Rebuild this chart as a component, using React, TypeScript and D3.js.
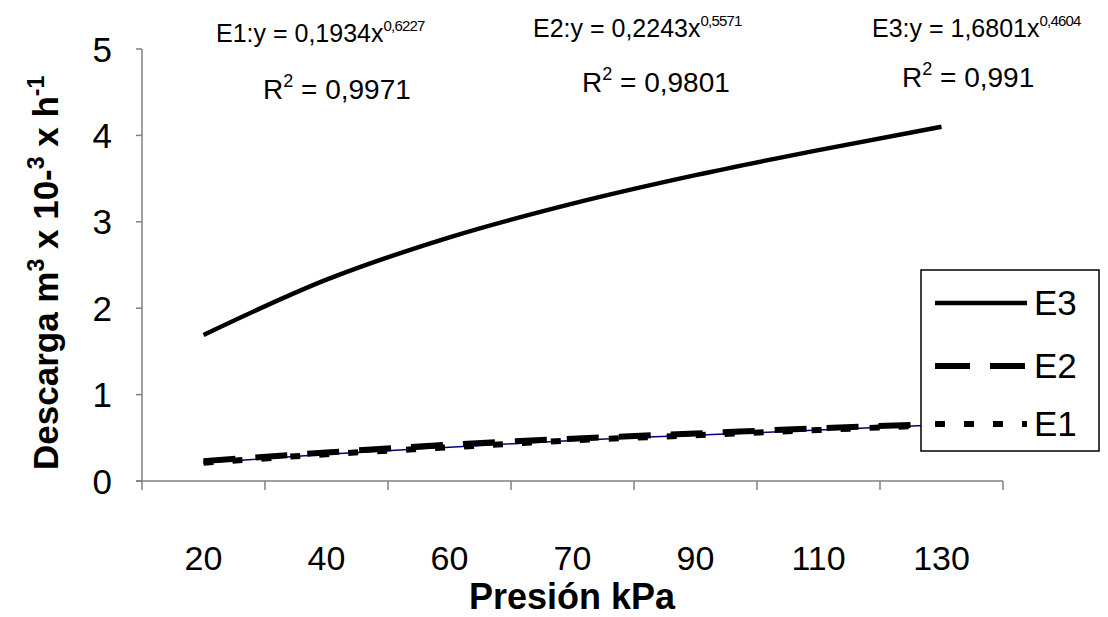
import { useEffect, useRef } from "react";
import * as d3 from "d3";

// x categories (pressure, kPa) and the three emitters
const categories = ["20", "40", "60", "70", "90", "110", "130"];
const e1Values = [0.21, 0.31, 0.39, 0.47, 0.53, 0.59, 0.65];
const e2Values = [0.23, 0.33, 0.42, 0.49, 0.55, 0.61, 0.66];
const e3Values = [1.69, 2.33, 2.82, 3.21, 3.54, 3.83, 4.1];
const yTicks = [0, 1, 2, 3, 4, 5];

const equations = [
  { name: "E1", eq: "0,1934", exp: "0,6227", r2: "0,9971" },
  { name: "E2", eq: "0,2243", exp: "0,5571", r2: "0,9801" },
  { name: "E3", eq: "1,6801", exp: "0,4604", r2: "0,991" },
];

export default function App() {
  const svgRef = useRef<SVGSVGElement | null>(null);

  useEffect(() => {
    const width = 1108;
    const height = 617;
    const left = 142;
    const right = 1003;
    const top = 49;
    const bottom = 481;
    const font = "Liberation Sans, Arial, sans-serif";
    const axisColor = "#808080";

    const svg = d3.select(svgRef.current);
    svg.selectAll("*").remove();
    svg.attr("width", width).attr("height", height).attr("viewBox", [0, 0, width, height]);

    const x = d3.scaleBand().domain(categories).range([left, right]).padding(0);
    const y = d3.scaleLinear().domain([0, 5]).range([bottom, top]);
    const cx = (c: string) => (x(c) as number) + x.bandwidth() / 2;

    // axes
    const ax = svg.append("g").attr("stroke", axisColor).attr("stroke-width", 1.5);
    ax.append("line").attr("x1", left).attr("x2", left).attr("y1", top).attr("y2", bottom + 9);
    ax.append("line").attr("x1", left - 6).attr("x2", right).attr("y1", bottom).attr("y2", bottom);
    yTicks.forEach((t) => {
      ax.append("line").attr("x1", left - 6).attr("x2", left).attr("y1", y(t)).attr("y2", y(t));
    });
    categories.forEach((c) => {
      const bx = (x(c) as number) + x.bandwidth();
      ax.append("line").attr("x1", bx).attr("x2", bx).attr("y1", bottom).attr("y2", bottom + 9);
    });

    svg.append("g")
      .selectAll("text")
      .data(yTicks)
      .enter()
      .append("text")
      .attr("x", 112)
      .attr("y", (d) => y(d))
      .attr("dy", "0.36em")
      .attr("text-anchor", "end")
      .attr("font-family", font)
      .attr("font-size", 35)
      .text((d) => d);

    svg.append("g")
      .selectAll("text")
      .data(categories)
      .enter()
      .append("text")
      .attr("x", (d) => cx(d))
      .attr("y", 570)
      .attr("text-anchor", "middle")
      .attr("font-family", font)
      .attr("font-size", 34)
      .text((d) => d);

    svg.append("text")
      .attr("x", 572)
      .attr("y", 609)
      .attr("text-anchor", "middle")
      .attr("font-family", font)
      .attr("font-weight", "bold")
      .attr("font-size", 36)
      .text("Presión kPa");

    const yt = svg.append("text")
      .attr("transform", "translate(58,470) rotate(-90)")
      .attr("text-anchor", "start")
      .attr("font-family", font)
      .attr("font-weight", "bold")
      .attr("font-size", 35);
    yt.append("tspan").text("Descarga m");
    yt.append("tspan").attr("dy", -14).attr("font-size", 23).text("3");
    yt.append("tspan").attr("dy", 14).text(" x 10-");
    yt.append("tspan").attr("dy", -14).attr("font-size", 23).text("3");
    yt.append("tspan").attr("dy", 14).text(" x h");
    yt.append("tspan").attr("dy", -14).attr("font-size", 23).text("-1");

    // series
    const line = d3.line<number>()
      .x((_, i) => cx(categories[i]))
      .y((d) => y(d))
      .curve(d3.curveMonotoneX);

    svg.append("path").attr("d", line(e1Values)).attr("fill", "none")
      .attr("stroke", "#000080").attr("stroke-width", 1.5);
    svg.append("path").attr("d", line(e1Values)).attr("fill", "none")
      .attr("stroke", "black").attr("stroke-width", 6).attr("stroke-dasharray", "10,19");
    svg.append("path").attr("d", line(e2Values)).attr("fill", "none")
      .attr("stroke", "black").attr("stroke-width", 6).attr("stroke-dasharray", "32,20");
    svg.append("path").attr("d", line(e3Values)).attr("fill", "none")
      .attr("stroke", "black").attr("stroke-width", 4.5);

    // trend equations
    const eqPos = [
      { x: 216, y1: 42, rx: 263, y2: 99 },
      { x: 533, y1: 37, rx: 582, y2: 92 },
      { x: 872, y1: 37, rx: 902, y2: 87 },
    ];
    equations.forEach((e, i) => {
      const p = eqPos[i];
      const t1 = svg.append("text").attr("x", p.x).attr("y", p.y1)
        .attr("font-family", font).attr("font-size", 25);
      t1.append("tspan").text(`${e.name}:y = ${e.eq}x`);
      t1.append("tspan").attr("dy", -11).attr("font-size", 15).attr("letter-spacing", -0.8).text(e.exp);
      const t2 = svg.append("text").attr("x", p.rx).attr("y", p.y2)
        .attr("font-family", font).attr("font-size", 28);
      t2.append("tspan").text("R");
      t2.append("tspan").attr("dy", -12).attr("font-size", 18).text("2");
      t2.append("tspan").attr("dy", 12).text(` = ${e.r2}`);
    });

    // legend
    const lg = svg.append("g");
    lg.append("rect").attr("x", 921).attr("y", 270).attr("width", 178).attr("height", 181)
      .attr("fill", "white").attr("stroke", "black").attr("stroke-width", 1.5);
    const items = [
      { name: "E3", y: 303, dash: null, w: 4.5 },
      { name: "E2", y: 366, dash: "35,20", w: 6 },
      { name: "E1", y: 424, dash: "10,19", w: 6 },
    ];
    items.forEach((it) => {
      const l = lg.append("line").attr("x1", 935).attr("x2", 1027).attr("y1", it.y).attr("y2", it.y)
        .attr("stroke", "black").attr("stroke-width", it.w);
      if (it.dash) l.attr("stroke-dasharray", it.dash);
      lg.append("text").attr("x", 1034).attr("y", it.y + 12)
        .attr("font-family", font).attr("font-size", 35).text(it.name);
    });
  }, []);

  return <svg ref={svgRef} style={{ position: "absolute", left: 0, top: 0, background: "white" }}></svg>;
}
